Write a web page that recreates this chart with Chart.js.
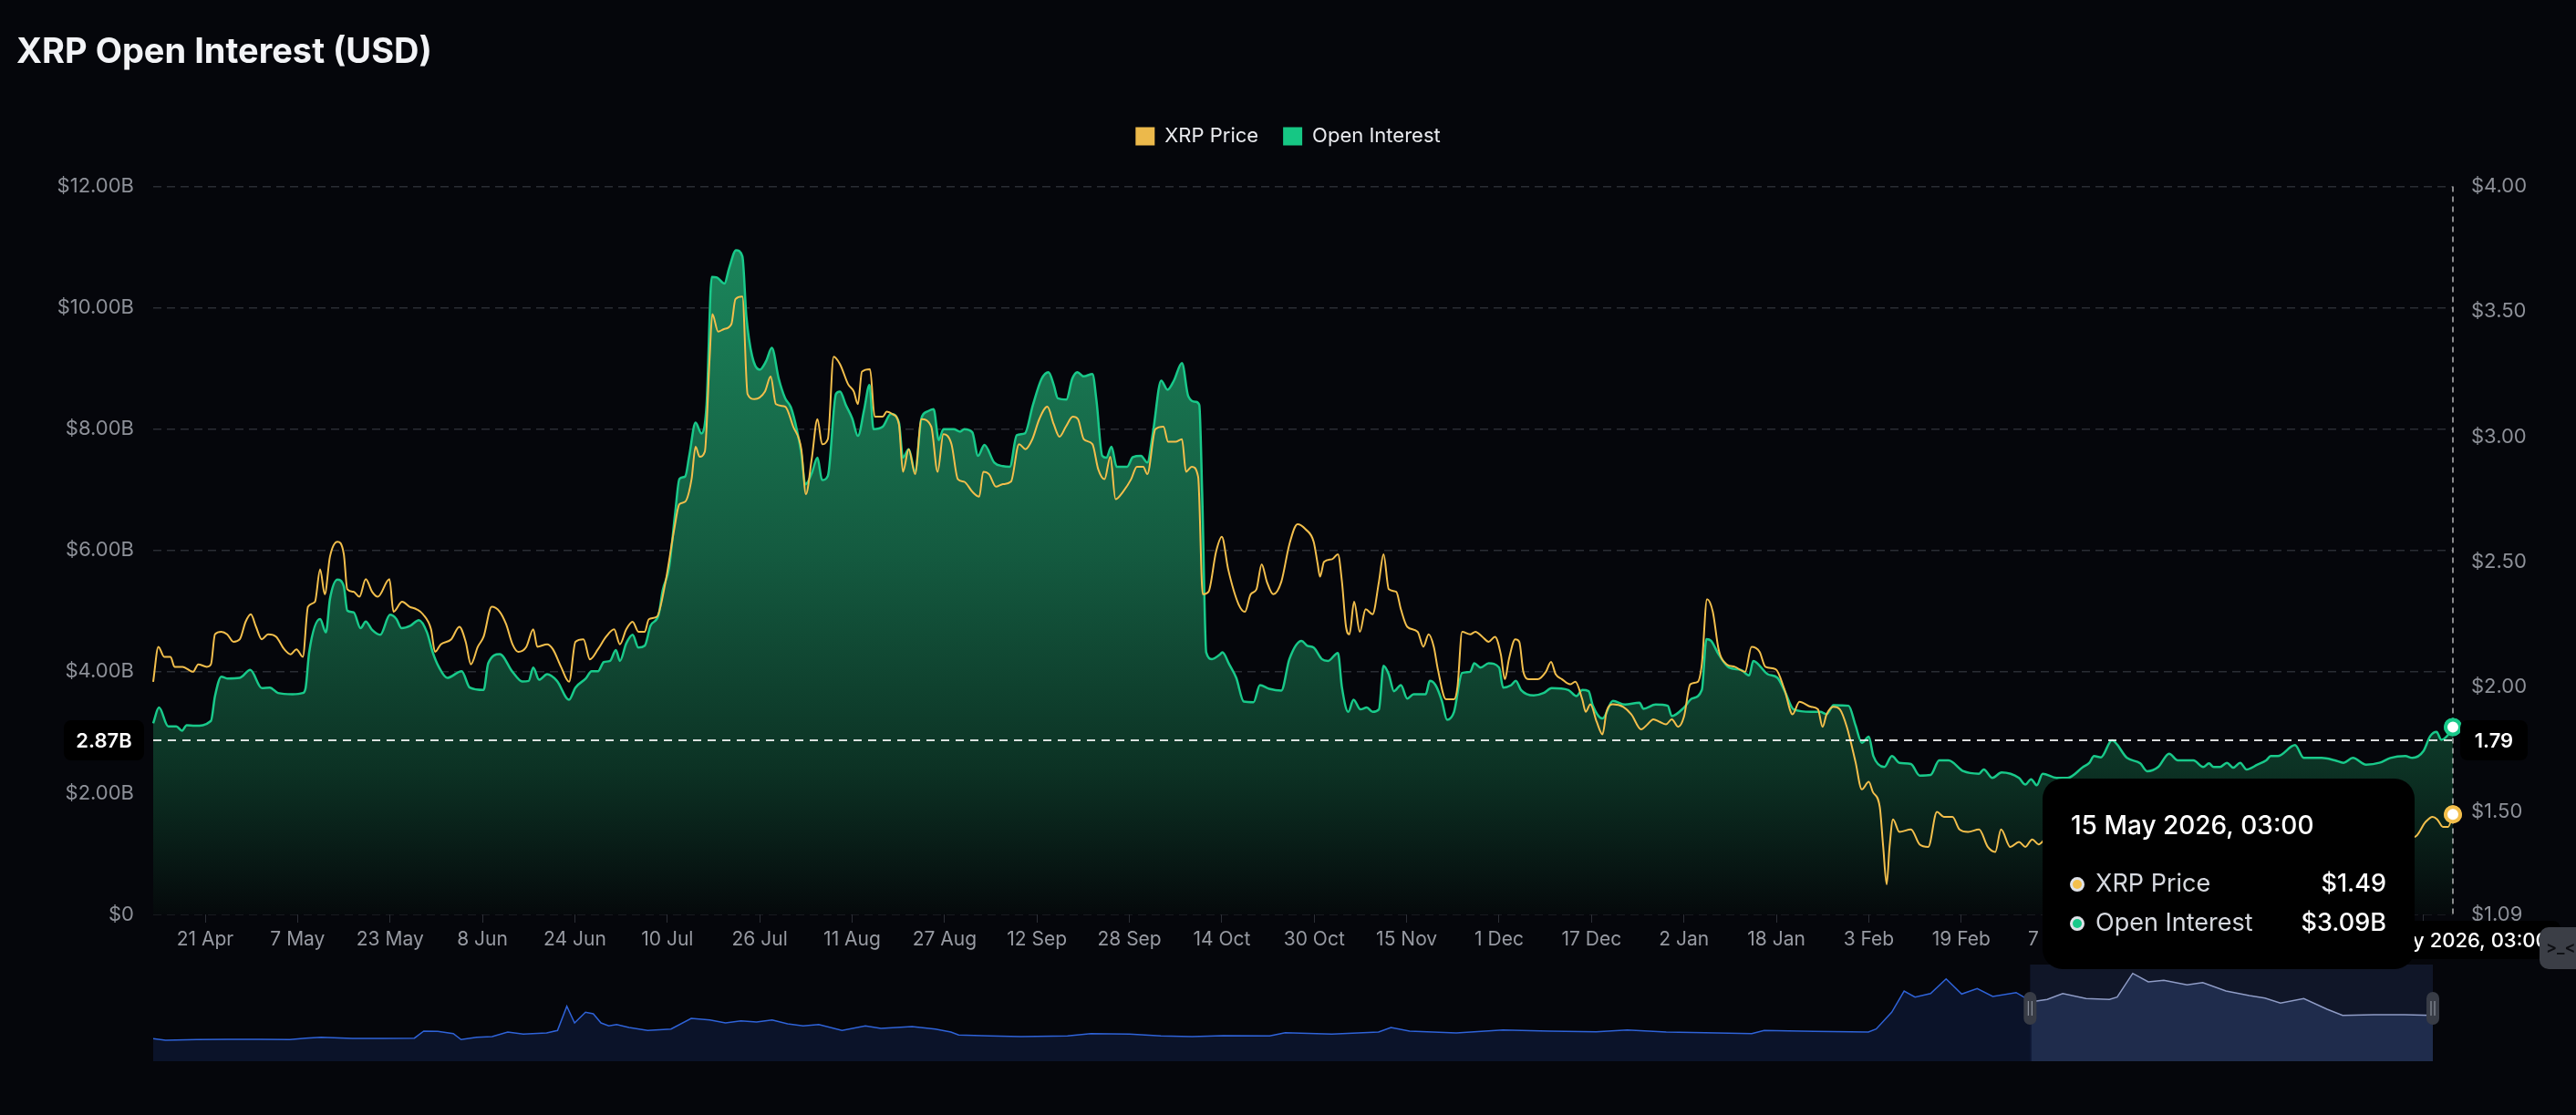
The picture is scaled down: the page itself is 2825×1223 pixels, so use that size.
<!DOCTYPE html>
<html>
<head>
<meta charset="utf-8">
<title>XRP Open Interest (USD)</title>
<script src="https://cdn.jsdelivr.net/npm/chart.js@4.4.1/dist/chart.umd.min.js"></script>
<style>
  html, body { margin: 0; padding: 0; background: #05060b; width: 2825px; height: 1223px; overflow: hidden; }
  #wrap { position: relative; width: 2825px; height: 1223px; }
  #navChart  { position: absolute; left: 150px; top: 1058px; z-index: 1; }
  #mainChart { position: absolute; left: 0; top: 0; z-index: 2; }
</style>
</head>
<body>
<div id="wrap">
  <canvas id="navChart" width="2570" height="106"></canvas>
  <canvas id="mainChart" width="2825" height="1223"></canvas>
</div>
<script>
// ── Datos ─────────────────────────────────────────────────────
// x = días desde el 12 Apr 2025; OI en miles de millones de USD, precio en USD
const END_DAY = 398.125;               // 15 May 2026, 03:00
const CURSOR_LABEL = '15 May 2026, 03:00';
const CURSOR_OI = 2.87;                // nivel de la cruz horizontal (B)

const X_TICK_DAYS   = [9, 25, 41, 57, 73, 89, 105, 121, 137, 153, 169, 185, 201, 217, 233, 249, 265, 281, 297, 313, 329, 345, 361, 377, 393];
const X_TICK_LABELS = ['21 Apr', '7 May', '23 May', '8 Jun', '24 Jun', '10 Jul', '26 Jul', '11 Aug', '27 Aug', '12 Sep', '28 Sep', '14 Oct', '30 Oct',
                       '15 Nov', '1 Dec', '17 Dec', '2 Jan', '18 Jan', '3 Feb', '19 Feb', '7 Mar', '23 Mar', '8 Apr', '24 Apr', '10 May'];
const OI_TICKS    = [0, 2, 4, 6, 8, 10, 12];
const PRICE_TICKS = [1.09, 1.5, 2, 2.5, 3, 3.5, 4];

const OI_POINTS = [
  [0,3.15],[1,3.41],[2.6,3.10],[4,3.10],[5,3.03],[5.8,3.12],[7.2,3.11],[10,3.19],[10.7,3.60],[11.8,3.92],
  [12.8,3.89],[15,3.90],[16.8,4.03],[18.8,3.73],[20.2,3.74],[21.6,3.65],[24.1,3.63],[25.9,3.65],[26.4,3.74],[27,4.32],
  [28.9,4.87],[29.9,4.65],[30.6,5.20],[31.9,5.52],[33,5.41],[33.6,5.01],[34.7,4.98],[35.9,4.72],[36.8,4.83],[37.9,4.69],
  [39.3,4.61],[41,4.94],[42.1,4.87],[43,4.72],[44.5,4.76],[46,4.85],[47.4,4.65],[48.4,4.32],[49.5,4.07],[50.9,3.90],
  [53.4,4.01],[54.8,3.74],[57.2,3.70],[58,4.14],[60,4.29],[62.2,4.00],[63.9,3.84],[65,3.85],[65.8,4.07],[66.8,3.87],
  [68.2,3.96],[69.9,3.85],[72,3.54],[73.1,3.74],[74.9,3.89],[75.9,4.01],[77,4.01],[78,4.16],[79.1,4.18],[80.1,4.36],
  [80.8,4.18],[81.9,4.47],[83,4.61],[84,4.40],[85.1,4.43],[86.1,4.76],[87.5,4.94],[88.2,5.34],[89.3,5.71],[90.4,6.65],
  [91.1,7.18],[92.1,7.22],[92.8,7.56],[93.9,8.11],[94.9,7.93],[95.8,8.40],[96.7,10.51],[97.6,10.50],[98.9,10.40],[99.7,10.65],
  [100.9,10.95],[102,10.85],[102.7,9.85],[103.7,9.20],[105,8.98],[106.1,9.12],[107.1,9.34],[108.3,8.83],[109.4,8.51],[110.4,8.36],
  [111.5,7.96],[112.2,7.60],[112.9,7.09],[114,7.27],[115,7.53],[115.8,7.16],[116.8,7.23],[118.2,8.58],[118.9,8.62],[119.9,8.40],
  [121,8.18],[122,7.89],[123.1,8.33],[124,8.73],[124.7,8.00],[126.3,8.04],[127.7,8.25],[129.1,8.11],[129.8,7.53],[130.8,7.67],
  [131.9,7.31],[133,8.18],[134,8.29],[135.1,8.33],[136,7.82],[136.8,8.00],[138.6,8.00],[139.7,7.96],[140.4,8.00],[141.8,7.95],
  [142.8,7.56],[143.9,7.74],[145.6,7.45],[147.1,7.39],[148.3,7.38],[149.5,7.90],[150.9,7.93],[152.3,8.40],[153.8,8.83],[155,8.94],
  [155.9,8.73],[156.6,8.51],[158.1,8.49],[159.1,8.83],[160,8.94],[161.1,8.87],[162.6,8.91],[163.3,8.47],[164.3,7.56],[165,7.53],
  [165.9,7.71],[166.8,7.38],[168.6,7.38],[169.6,7.54],[171,7.56],[172.1,7.45],[173.1,7.96],[174.5,8.80],[175.6,8.65],[176.7,8.80],
  [178.1,9.09],[179.2,8.54],[180.5,8.45],[181.1,8.40],[181.6,6.94],[182.3,4.32],[183.3,4.21],[184.6,4.28],[185.1,4.32],[186.3,4.12],
  [187.5,3.90],[188.8,3.51],[190.5,3.50],[191.6,3.78],[193.2,3.72],[195.3,3.69],[196.7,4.21],[198.8,4.51],[199.8,4.43],[200.9,4.40],
  [202.3,4.21],[203.4,4.18],[205.1,4.31],[205.8,3.74],[206.9,3.34],[207.8,3.54],[209,3.38],[210.1,3.41],[211.1,3.34],[212.2,3.38],
  [213,4.10],[213.9,3.96],[214.8,3.68],[216,3.78],[217.1,3.56],[218.2,3.63],[220.3,3.63],[221,3.85],[222,3.78],[223.1,3.52],
  [224,3.21],[225.2,3.34],[226.6,3.98],[228,4.00],[228.7,4.14],[229.8,4.07],[231.2,4.14],[233,4.07],[233.7,3.74],[235.1,3.78],
  [235.9,3.85],[236.8,3.70],[239,3.61],[240.7,3.65],[242.1,3.73],[245,3.70],[246.4,3.60],[247.4,3.70],[248.5,3.68],[249.2,3.45],
  [250.9,3.23],[252.7,3.52],[254.8,3.46],[257.3,3.49],[258,3.39],[260.1,3.46],[262.2,3.44],[262.9,3.27],[265,3.41],[266.4,3.56],
  [268.1,3.70],[268.9,4.54],[269.7,4.51],[271,4.29],[272.8,4.07],[274.9,4.03],[276.3,3.94],[277,4.18],[279.5,3.96],[281.2,3.90],
  [282.5,3.67],[284,3.38],[287,3.34],[288.6,3.34],[289.7,3.30],[290.9,3.45],[293.5,3.44],[294.7,3.12],[295.8,2.83],[297,2.93],
  [297.8,2.61],[299.7,2.43],[301,2.61],[302.3,2.50],[304.3,2.48],[305.8,2.29],[307.7,2.30],[309.2,2.54],[310.8,2.54],[313.4,2.36],
  [316.1,2.32],[316.9,2.39],[318.4,2.25],[320,2.34],[323,2.25],[324.1,2.14],[325.1,2.23],[326.1,2.13],[327.1,2.32],[329.5,2.25],
  [331.4,2.25],[334.1,2.43],[335.2,2.50],[336,2.61],[337.2,2.59],[339.1,2.87],[341.7,2.58],[344,2.49],[345.2,2.36],[347.1,2.43],
  [349,2.65],[350.5,2.54],[353.2,2.54],[354.9,2.43],[355.9,2.49],[356.7,2.43],[357.8,2.43],[359,2.50],[360.1,2.42],[361.3,2.50],
  [362.4,2.39],[364.3,2.47],[365.8,2.54],[366.6,2.61],[367.8,2.61],[370.8,2.79],[372.3,2.58],[375.4,2.58],[377.7,2.54],[379.2,2.50],
  [380.8,2.58],[383.1,2.47],[385.4,2.50],[387.3,2.58],[389.9,2.61],[391.1,2.58],[393,2.69],[394.2,2.94],[395.3,3.01],[396.1,2.88],
  [397.2,2.95],[398.125,3.09]
];

const PRICE_POINTS = [
  [0,2.02],[0.9,2.16],[1.9,2.12],[3,2.12],[3.7,2.08],[5.1,2.08],[6.9,2.06],[7.8,2.09],[9.3,2.08],[10,2.09],
  [10.7,2.21],[11.8,2.22],[12.8,2.21],[13.9,2.18],[15,2.19],[16,2.26],[16.9,2.29],[17.8,2.24],[18.8,2.19],[19.9,2.21],
  [21.3,2.20],[22.7,2.15],[23.8,2.13],[24.8,2.15],[25.9,2.12],[26.8,2.32],[28,2.34],[28.9,2.47],[29.7,2.37],[30.6,2.52],
  [31.9,2.58],[33,2.53],[33.6,2.39],[34.7,2.38],[35.7,2.36],[36.8,2.43],[37.9,2.38],[38.9,2.36],[40.9,2.43],[41.6,2.30],
  [43.1,2.34],[44.4,2.32],[45.6,2.31],[46.7,2.29],[48.1,2.23],[48.8,2.14],[49.8,2.17],[51.6,2.19],[53,2.24],[54.1,2.18],
  [55,2.09],[56.2,2.16],[57.2,2.20],[58.6,2.32],[60,2.30],[61.1,2.25],[62.2,2.17],[63.2,2.14],[64.6,2.16],[65.8,2.23],
  [66.5,2.16],[68.2,2.17],[69.2,2.15],[70.6,2.08],[72,2.02],[73.1,2.18],[74.5,2.19],[75.6,2.11],[77,2.15],[78.4,2.20],
  [79.8,2.23],[80.8,2.17],[81.9,2.23],[83,2.26],[84,2.22],[85.1,2.22],[85.8,2.27],[87.2,2.28],[88.7,2.42],[90.2,2.63],
  [91.1,2.73],[92.1,2.74],[93.2,2.83],[93.9,2.96],[94.6,2.92],[95.5,2.94],[96.3,3.30],[96.8,3.49],[97.8,3.42],[98.8,3.43],
  [100.1,3.45],[100.8,3.55],[102,3.56],[102.9,3.17],[104.1,3.15],[105.9,3.18],[106.9,3.24],[107.8,3.13],[109.4,3.12],[110.8,3.04],
  [112.2,2.95],[113,2.77],[114,2.91],[115,3.07],[115.8,2.97],[116.8,2.99],[117.8,3.32],[118.9,3.29],[120.3,3.21],[121.3,3.18],
  [122,3.13],[122.7,3.26],[124.1,3.27],[124.9,3.08],[126.3,3.08],[127,3.10],[128,3.09],[129.1,3.05],[129.8,2.86],[130.8,2.95],
  [131.9,2.85],[133,3.07],[134.7,3.04],[135.8,2.86],[136.8,3.01],[138.2,2.97],[139.3,2.83],[140.4,2.82],[141.8,2.78],[143,2.76],
  [143.7,2.86],[144.7,2.85],[145.9,2.80],[147.1,2.81],[148.5,2.82],[149.9,2.97],[151,2.95],[152.2,2.99],[153.4,3.07],[154.8,3.12],
  [155.9,3.05],[156.9,3.00],[158,3.04],[159.2,3.08],[160.1,3.07],[161.1,2.99],[162.6,2.97],[163.6,2.87],[164.7,2.83],[165.7,2.92],
  [166.6,2.75],[167.9,2.78],[169.3,2.83],[170.3,2.88],[171.4,2.88],[172.1,2.85],[173.5,3.03],[174.9,3.04],[175.7,2.98],[177,2.98],
  [178.1,2.99],[178.8,2.86],[179.8,2.88],[180.9,2.84],[181.7,2.37],[182.7,2.38],[184,2.54],[185,2.60],[186.1,2.47],[187.9,2.33],
  [189,2.30],[190,2.37],[191,2.39],[191.9,2.49],[192.8,2.42],[193.9,2.37],[195.3,2.42],[196.7,2.57],[198.1,2.65],[199.5,2.63],
  [200.9,2.58],[201.6,2.49],[202,2.44],[202.7,2.50],[204.1,2.51],[205.1,2.53],[205.8,2.42],[206.5,2.24],[207.1,2.21],[207.9,2.34],
  [208.9,2.22],[209.9,2.31],[211.1,2.29],[212.2,2.42],[213,2.53],[213.9,2.39],[215.2,2.38],[216,2.31],[217.1,2.24],[218.9,2.22],
  [219.9,2.16],[220.8,2.21],[221.7,2.16],[222.4,2.07],[223.8,1.95],[225.2,1.95],[225.8,2.00],[226.6,2.22],[228,2.21],[228.9,2.22],
  [230.1,2.20],[231.2,2.18],[232.3,2.20],[233.3,2.13],[234,2.03],[234.7,2.11],[235.8,2.19],[236.5,2.18],[237.2,2.06],[238.2,2.03],
  [239.7,2.03],[241.1,2.06],[242,2.10],[242.8,2.05],[243.9,2.03],[245.3,2.01],[246.2,2.02],[247.4,1.95],[248,1.90],[248.8,1.93],
  [249.9,1.86],[250.9,1.81],[251.6,1.90],[252.7,1.93],[254.5,1.92],[255.9,1.89],[257.6,1.83],[258.7,1.85],[259.7,1.87],[260.8,1.86],
  [261.9,1.85],[262.9,1.87],[264,1.84],[265,1.88],[266.1,2.01],[267.4,2.02],[268.1,2.09],[269,2.35],[270,2.30],[271,2.15],
  [272.4,2.09],[273.8,2.08],[275.6,2.06],[276.7,2.16],[278.1,2.14],[279.1,2.08],[280.9,2.07],[282.4,1.99],[283.8,1.89],[285,1.94],
  [287,1.92],[288.2,1.91],[289,1.84],[289.7,1.89],[290.9,1.92],[292,1.91],[293.2,1.84],[294.7,1.70],[295.8,1.59],[297,1.62],
  [297.7,1.58],[298.9,1.52],[299.5,1.36],[300.1,1.21],[300.6,1.36],[301.2,1.47],[302.3,1.42],[304.3,1.43],[305.8,1.37],[307.3,1.36],
  [308.8,1.50],[310,1.48],[311.5,1.48],[312.7,1.43],[314.2,1.42],[316.1,1.43],[317.6,1.36],[318.9,1.34],[319.9,1.43],[321.5,1.36],
  [323,1.38],[324.1,1.36],[325.3,1.39],[326.4,1.37],[328,1.40],[331,1.36],[334,1.42],[337,1.45],[340,1.41],[343,1.38],
  [346,1.35],[349,1.40],[352,1.43],[355,1.39],[358,1.36],[361,1.40],[364,1.44],[367,1.41],[370,1.46],[373,1.43],
  [376,1.40],[379,1.38],[382,1.41],[385,1.39],[388,1.42],[391.5,1.40],[393.4,1.46],[394.6,1.48],[395.4,1.47],[396.4,1.44],
  [397.3,1.44],[398.125,1.49]
];

// navegador inferior: posición relativa en la historia completa, nivel relativo
const NAV_WINDOW = [1219, 1478];
const NAV_POINTS = [
  [12,24.7],[20,23],[40,23.7],[60,24],[80,24],[100,23.7],[110,25.3],[120,26.3],[140,25],[160,25],
  [180,25.3],[186,33],[195,32.7],[205,30.3],[210,23.7],[220,26.3],[230,27],[240,32],[250,29.7],[265,31],
  [272,33.7],[278,60.3],[283,42],[290,53.7],[295,52],[300,42],[305,38.7],[310,40.3],[318,37],[330,33.7],
  [345,35.3],[358,47],[370,45.3],[380,42],[390,44.3],[400,43],[410,45.3],[420,41],[430,38.7],[440,40.3],
  [455,33.7],[470,38.7],[480,36],[500,38],[515,35.3],[525,32],[530,28.7],[550,27.7],[570,27],[600,27.7],
  [615,30.3],[640,29.7],[660,27.7],[680,27],[700,28],[730,27.7],[740,31.3],[770,29.7],[800,32],[808,37],
  [820,33],[850,31],[880,34.3],[910,33],[940,32.3],[960,34.3],[985,32],[1010,31.3],[1040,30.3],[1048,33.7],
  [1080,32.7],[1115,32],[1120,35.3],[1130,53.7],[1138,77],[1145,70.3],[1155,74.3],[1165,90.3],[1175,73.7],[1185,79.7],
  [1195,71],[1210,75.3],[1220,65.3],[1230,67.7],[1240,74.3],[1255,68.7],[1270,67.7],[1275,70.3],[1285,96.3],[1295,87],
  [1305,88.7],[1320,83.7],[1330,86.3],[1345,77],[1360,72],[1370,69.3],[1380,63.7],[1395,68.7],[1410,57],[1420,50.3],
  [1440,51],[1460,51],[1478,50.3]
];

// ── Estilo ────────────────────────────────────────────────────
const PRICE_COLOR = '#f3bf4c';
const OI_COLOR    = '#19c98a';
const LEGEND_COLORS = ['#ecb94b', '#16c784'];
const FONT = 'Inter, "Noto Sans", sans-serif';
Chart.defaults.font.family = FONT;

const toXY = pts => pts.map(p => ({ x: p[0], y: p[1] }));
const lastOnly = r => ctx => (ctx.dataIndex === ctx.dataset.data.length - 1 ? r : 0);

function oiGradient(ctx) {
    const area = ctx.chart.chartArea;
    if (!area) return 'rgba(25,130,85,0.5)';
    const g = ctx.chart.ctx.createLinearGradient(0, area.top, 0, area.bottom);
    g.addColorStop(0,    '#1d8d60');
    g.addColorStop(0.15, '#1a7f57');
    g.addColorStop(0.5,  '#145b40');
    g.addColorStop(0.8,  '#0c3224');
    g.addColorStop(1,    '#05090b');
    return g;
}

function roundBox(ctx, x, y, w, h, r, fill) {
    ctx.fillStyle = fill;
    ctx.beginPath();
    ctx.roundRect(x, y, w, h, r);
    ctx.fill();
}

function badge(ctx, cx, cy, w, h, text) {
    roundBox(ctx, cx - w / 2, cy - h / 2, w, h, 8, '#000');
    ctx.fillStyle = '#fff';
    ctx.textAlign = 'center';
    ctx.textBaseline = 'middle';
    ctx.fillText(text, cx, cy + 1);
}

// ── Leyenda: hueco hasta el área del gráfico ─────────────────
const legendGap = {
    id: 'legendGap',
    beforeLayout(chart) {
        const lg = chart.legend;
        if (!lg || lg._gap) return;
        const fit = lg.fit;
        lg.fit = function () { fit.call(this); this.height = 93; };
        lg._gap = true;
    },
};

// ── Cruz, etiquetas y tooltip fijo en el último punto ────────
const crosshair = {
    id: 'crosshair',
    afterDatasetsDraw(chart) {
        const { ctx, chartArea: area, scales } = chart;
        const xPix = scales.x.getPixelForValue(END_DAY);
        const yPix = scales.y.getPixelForValue(CURSOR_OI);
        ctx.save();
        ctx.strokeStyle = 'rgba(255,255,255,0.85)';
        ctx.lineWidth = 2;
        ctx.setLineDash([9, 7]);
        ctx.beginPath(); ctx.moveTo(area.left, yPix); ctx.lineTo(xPix, yPix); ctx.stroke();
        ctx.strokeStyle = 'rgba(255,255,255,0.7)';
        ctx.lineWidth = 1.5;
        ctx.setLineDash([6, 5]);
        ctx.beginPath(); ctx.moveTo(xPix, area.top); ctx.lineTo(xPix, area.bottom); ctx.stroke();
        ctx.restore();
        // los puntos finales por encima de la línea vertical
        chart.data.datasets.forEach((ds, i) => {
            const pts = chart.getDatasetMeta(i).data;
            pts[pts.length - 1].draw(ctx);
        });
    },
    afterDraw(chart) {
        const { ctx, chartArea: area, scales } = chart;
        const xPix = scales.x.getPixelForValue(END_DAY);
        const yPix = scales.y.getPixelForValue(CURSOR_OI);
        const priceAtCursor = scales.y1.getValueForPixel(yPix);
        ctx.save();

        ctx.font = `600 22px ${FONT}`;
        badge(ctx, area.left - 54, yPix, 88, 44, CURSOR_OI.toFixed(2) + 'B');
        badge(ctx, area.right + 45, yPix, 74, 44, priceAtCursor.toFixed(2));

        ctx.font = `500 22px ${FONT}`;
        const tw = ctx.measureText(CURSOR_LABEL).width;
        badge(ctx, xPix, area.bottom + 28, tw + 26, 42, CURSOR_LABEL);

        // tooltip
        const tx = xPix - 450, ty = yPix + 42;
        roundBox(ctx, tx, ty, 408, 209, 22, '#000');
        ctx.textBaseline = 'middle';
        ctx.textAlign = 'left';
        ctx.fillStyle = '#ffffff';
        ctx.font = `500 28px ${FONT}`;
        ctx.fillText(CURSOR_LABEL, tx + 31, ty + 53);

        const rows = [
            ['XRP Price', '$' + PRICE_POINTS[PRICE_POINTS.length - 1][1].toFixed(2), PRICE_COLOR],
            ['Open Interest', '$' + OI_POINTS[OI_POINTS.length - 1][1].toFixed(2) + 'B', OI_COLOR],
        ];
        rows.forEach(([label, value, color], i) => {
            const ry = ty + 116 + i * 43;
            ctx.fillStyle = '#dfe2e8';
            ctx.beginPath(); ctx.arc(tx + 38, ry, 8, 0, Math.PI * 2); ctx.fill();
            ctx.fillStyle = color;
            ctx.beginPath(); ctx.arc(tx + 38, ry, 5, 0, Math.PI * 2); ctx.fill();
            ctx.textAlign = 'left';
            ctx.fillStyle = '#d6d9df';
            ctx.font = `400 27px ${FONT}`;
            ctx.fillText(label, tx + 58, ry);
            ctx.textAlign = 'right';
            ctx.fillStyle = '#ffffff';
            ctx.font = `500 27px ${FONT}`;
            ctx.fillText(value, tx + 377, ry);
        });

        // botón gris de la esquina
        roundBox(ctx, 2785, 1017, 60, 46, 10, '#3b3e46');
        ctx.fillStyle = '#0d0e12';
        ctx.textAlign = 'left';
        ctx.font = `600 18px ${FONT}`;
        ctx.fillText('>_<', 2792, 1040);
        ctx.restore();
    },
};

// ══════════════════════════════════════════════════════════════
// GRÁFICO PRINCIPAL
// ══════════════════════════════════════════════════════════════
new Chart(document.getElementById('mainChart'), {
    type: 'line',
    data: {
        datasets: [
            {
                label: 'XRP Price',
                data: toXY(PRICE_POINTS),
                yAxisID: 'y1',
                borderColor: PRICE_COLOR,
                borderWidth: 2,
                fill: false,
                cubicInterpolationMode: 'monotone',
                pointRadius: lastOnly(8),
                pointBackgroundColor: '#ffffff',
                pointBorderColor: PRICE_COLOR,
                pointBorderWidth: 4,
                clip: 14,
            },
            {
                label: 'Open Interest',
                data: toXY(OI_POINTS),
                yAxisID: 'y',
                borderColor: OI_COLOR,
                borderWidth: 2.5,
                fill: 'origin',
                backgroundColor: oiGradient,
                cubicInterpolationMode: 'monotone',
                pointRadius: lastOnly(8),
                pointBackgroundColor: '#ffffff',
                pointBorderColor: OI_COLOR,
                pointBorderWidth: 4,
                clip: 14,
            },
        ],
    },
    options: {
        responsive: false,
        devicePixelRatio: 1,
        animation: false,
        events: [],
        layout: { padding: { left: 18, right: 18, top: 0, bottom: 0 } },
        plugins: {
            title: {
                display: true,
                text: 'XRP Open Interest (USD)',
                align: 'start',
                color: '#f2f3f6',
                font: { family: FONT, size: 38, weight: 'bold', lineHeight: 1.2 },
                padding: { top: 35, bottom: 31 },
            },
            legend: {
                position: 'top',
                align: 'center',
                labels: {
                    boxWidth: 21,
                    boxHeight: 20,
                    padding: 27,
                    color: '#e9eaee',
                    font: { family: FONT, size: 22 },
                    generateLabels: chart => chart.data.datasets.map((ds, i) => ({
                        text: ds.label,
                        fillStyle: LEGEND_COLORS[i],
                        strokeStyle: LEGEND_COLORS[i],
                        lineWidth: 0,
                        hidden: false,
                        datasetIndex: i,
                        fontColor: '#e9eaee',
                    })),
                },
            },
            tooltip: { enabled: false },
        },
        scales: {
            x: {
                type: 'linear',
                min: 0,
                max: END_DAY,
                afterBuildTicks: s => { s.ticks = X_TICK_DAYS.map(v => ({ value: v })); },
                afterFit: s => { s.height = 220; },
                ticks: {
                    autoSkip: false,
                    maxRotation: 0,
                    color: '#979aa2',
                    font: { family: FONT, size: 21 },
                    padding: 6,
                    callback: (v, i) => X_TICK_LABELS[i],
                },
                grid: { drawOnChartArea: false, drawTicks: true, tickLength: 9, color: '#2c2f36' },
                border: { display: false },
            },
            y: {
                position: 'left',
                min: 0,
                max: 12,
                afterBuildTicks: s => { s.ticks = OI_TICKS.map(v => ({ value: v })); },
                afterFit: s => { s.width = 150; },
                ticks: {
                    color: '#8d9098',
                    font: { family: FONT, size: 22 },
                    padding: 21,
                    callback: v => (v === 0 ? '$0' : '$' + v.toFixed(2) + 'B'),
                },
                grid: { color: '#2a2d34', lineWidth: 1.5, drawTicks: false },
                border: { display: false, dash: [9, 6] },
            },
            y1: {
                position: 'right',
                min: 1.09,
                max: 4,
                afterBuildTicks: s => { s.ticks = PRICE_TICKS.map(v => ({ value: v })); },
                afterFit: s => { s.width = 117; },
                ticks: {
                    color: '#8d9098',
                    font: { family: FONT, size: 22 },
                    padding: 20,
                    callback: v => '$' + v.toFixed(2),
                },
                grid: { display: false, drawTicks: false },
                border: { display: false },
            },
        },
    },
    plugins: [legendGap, crosshair],
});

// ══════════════════════════════════════════════════════════════
// NAVEGADOR INFERIOR
// ══════════════════════════════════════════════════════════════
const navWindow = {
    id: 'navWindow',
    beforeDatasetsDraw(chart) {
        const { ctx, chartArea: a, scales } = chart;
        const x0 = scales.x.getPixelForValue(NAV_WINDOW[0]);
        const x1 = scales.x.getPixelForValue(NAV_WINDOW[1]);
        ctx.save();
        ctx.fillStyle = 'rgba(26,36,66,0.55)';
        ctx.fillRect(x0, a.top, x1 - x0, a.bottom - a.top);
        ctx.restore();
    },
    afterDraw(chart) {
        const { ctx, scales } = chart;
        ctx.save();
        NAV_WINDOW.forEach(v => {
            const x = scales.x.getPixelForValue(v);
            roundBox(ctx, x - 7, 30, 14, 36, 7, '#383c46');
            ctx.strokeStyle = '#9aa0ab';
            ctx.lineWidth = 1;
            ctx.beginPath();
            ctx.moveTo(x - 2, 40); ctx.lineTo(x - 2, 56);
            ctx.moveTo(x + 2, 40); ctx.lineTo(x + 2, 56);
            ctx.stroke();
        });
        ctx.restore();
    },
};

new Chart(document.getElementById('navChart'), {
    type: 'line',
    data: {
        datasets: [{
            data: toXY(NAV_POINTS),
            borderColor: '#2f63d8',
            borderWidth: 1.5,
            pointRadius: 0,
            fill: 'origin',
            backgroundColor: 'rgba(18,32,72,0.5)',
            tension: 0,
            segment: {
                borderColor: c => (c.p0.parsed.x >= NAV_WINDOW[0] ? '#8f9cc6' : undefined),
                backgroundColor: c => (c.p0.parsed.x >= NAV_WINDOW[0] ? 'rgba(44,58,100,0.6)' : undefined),
            },
        }],
    },
    options: {
        responsive: false,
        devicePixelRatio: 1,
        animation: false,
        events: [],
        layout: { padding: { left: 18, right: 52, top: 0, bottom: 0 } },
        plugins: { legend: { display: false }, tooltip: { enabled: false }, title: { display: false } },
        scales: {
            x: { type: 'linear', display: false, min: 12, max: 1478 },
            y: { display: false, min: 0, max: 106 },
        },
    },
    plugins: [navWindow],
});
</script>
</body>
</html>
